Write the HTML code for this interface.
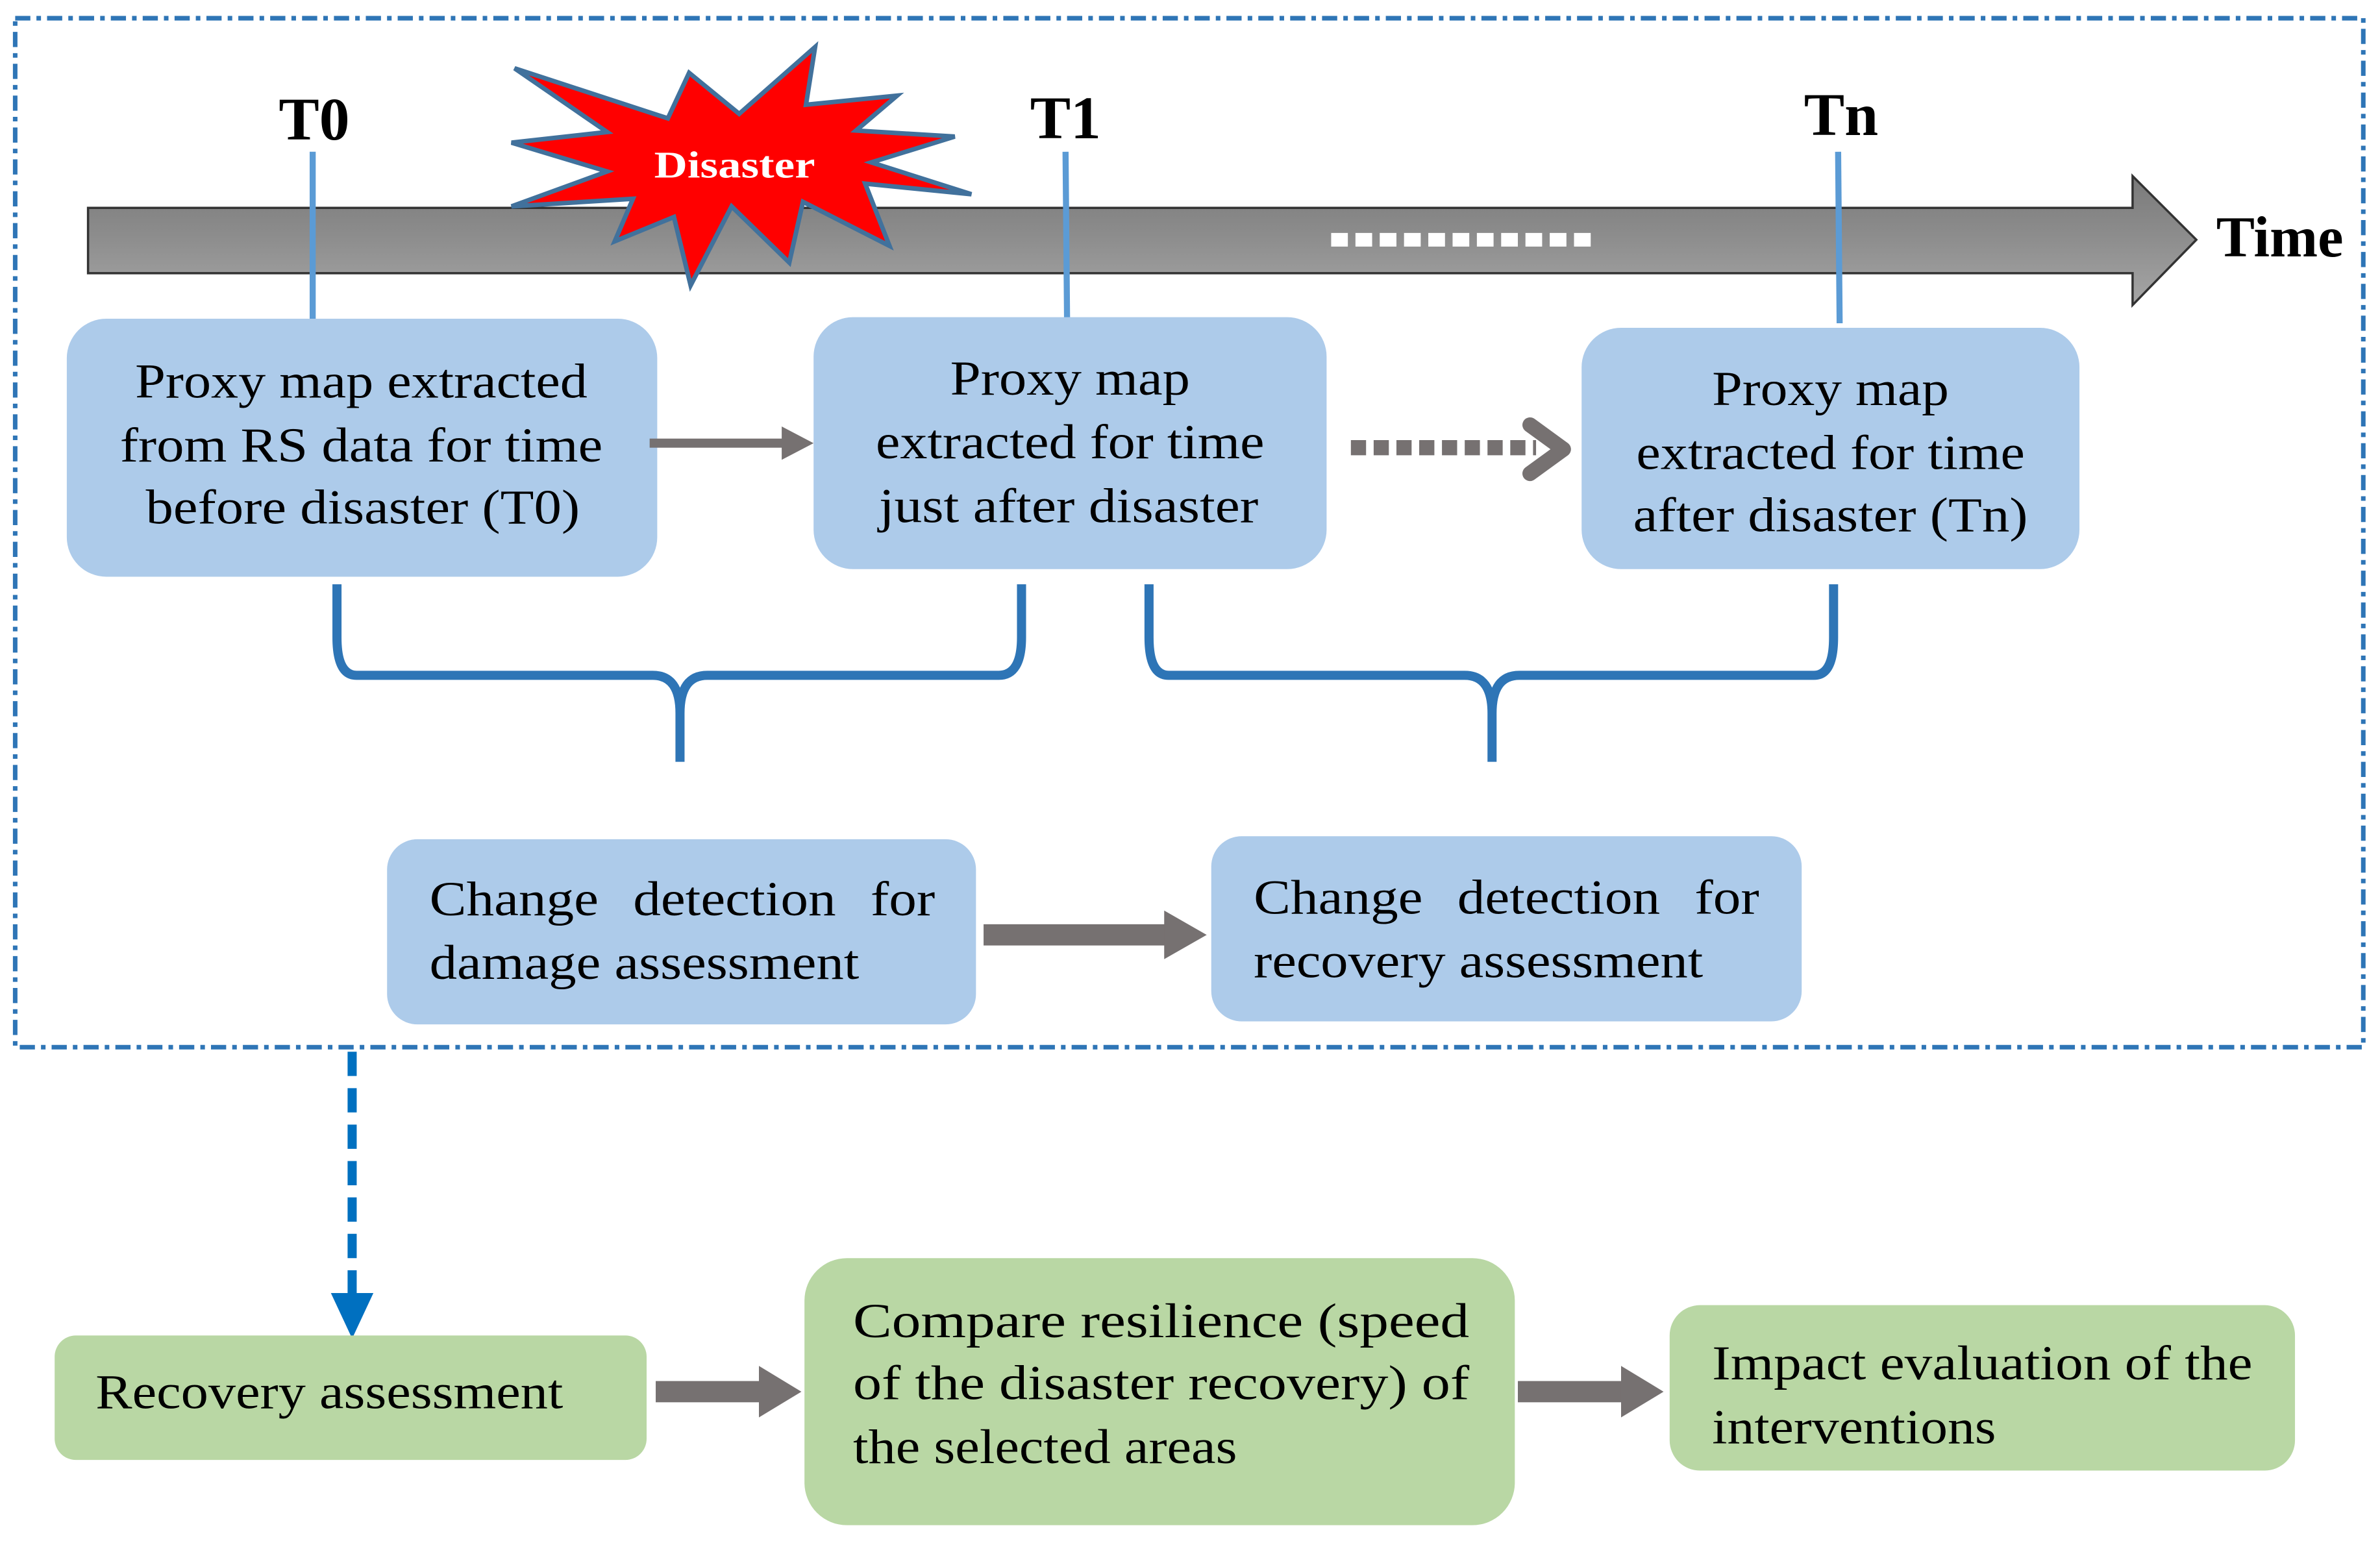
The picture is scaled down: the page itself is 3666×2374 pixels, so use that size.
<!DOCTYPE html>
<html><head><meta charset="utf-8"><style>html,body{margin:0;padding:0;background:#fff}svg{display:block}svg text{font-family:"Liberation Serif","Times New Roman","DejaVu Serif",serif}</style></head>
<body>
<svg width="3666" height="2374" viewBox="0 0 1568 1015.4" xmlns="http://www.w3.org/2000/svg">
<defs>
<linearGradient id="bar" x1="0" y1="0" x2="0" y2="1"><stop offset="0" stop-color="#7a7a7a"/><stop offset="0.5" stop-color="#8e8e8e"/><stop offset="1" stop-color="#a6a6a6"/></linearGradient>
<linearGradient id="fade" x1="0" y1="0" x2="0" y2="1"><stop offset="0" stop-color="#ccc" stop-opacity="0"/><stop offset="1" stop-color="#aaa"/></linearGradient>
</defs>
<rect x="10" y="12" width="1547" height="678" fill="none" stroke="#2e75b6" stroke-width="3" stroke-dasharray="10,4,3,4"/>
<path d="M58,137 H1405 V116 L1447,158 L1405,201 V180 H58 Z" fill="url(#bar)" stroke="#333" stroke-width="1.5"/>
<line x1="877" y1="158" x2="1048" y2="158" stroke="#fff" stroke-width="9" stroke-dasharray="11,5"/>
<g fill="#000" font-weight="bold" text-anchor="middle" font-size="40">
<text x="207" y="92">T0</text><text x="702" y="91">T1</text><text x="1213" y="89">Tn</text>
<text x="1502" y="169" font-size="38">Time</text></g>
<g stroke="#5b9bd5" stroke-width="4"><line x1="206" y1="100" x2="206" y2="210"/><line x1="702" y1="100" x2="703" y2="210"/><line x1="1211" y1="100" x2="1212" y2="213"/></g>
<polygon points="339,45 440,78 454,48 487,75 537,31 531,69 591,63 564,86 629,90 574,107 640,128 570,121 586,162 529,133 520,173 482,136 455,188 444,143 405,159 417,131 337,136 400,113 337,94 400,87" fill="#ff0000" stroke="#41719c" stroke-width="3"/>
<text x="484" y="117" fill="#fff" font-weight="bold" font-size="25" text-anchor="middle" textLength="106" lengthAdjust="spacingAndGlyphs">Disaster</text>
<g fill="#adcbea">
<rect x="44" y="210" width="389" height="170" rx="26"/>
<rect x="536" y="209" width="338" height="166" rx="26"/>
<rect x="1042" y="216" width="328" height="159" rx="26"/>
<rect x="255" y="553" width="388" height="122" rx="20"/>
<rect x="798" y="551" width="389" height="122" rx="20"/>
</g>
<g font-size="32" fill="#000" text-anchor="middle">
<text x="238" y="262" textLength="298" lengthAdjust="spacingAndGlyphs">Proxy map extracted</text>
<text x="238" y="304" textLength="318" lengthAdjust="spacingAndGlyphs">from RS data for time</text>
<text x="239" y="345" textLength="286" lengthAdjust="spacingAndGlyphs">before disaster (T0)</text>
<text x="705" y="260" textLength="158" lengthAdjust="spacingAndGlyphs">Proxy map</text>
<text x="705" y="302" textLength="256" lengthAdjust="spacingAndGlyphs">extracted for time</text>
<text x="704" y="344" textLength="250" lengthAdjust="spacingAndGlyphs">just after disaster</text>
<text x="1206" y="267" textLength="156" lengthAdjust="spacingAndGlyphs">Proxy map</text>
<text x="1206" y="309" textLength="256" lengthAdjust="spacingAndGlyphs">extracted for time</text>
<text x="1206" y="350" textLength="260" lengthAdjust="spacingAndGlyphs">after disaster (Tn)</text>
</g>
<g font-size="32" fill="#000">
<text x="283" y="603" textLength="333" lengthAdjust="spacingAndGlyphs" word-spacing="12">Change  detection  for</text>
<text x="283" y="645" textLength="283" lengthAdjust="spacingAndGlyphs">damage assessment</text>
<text x="826" y="602" textLength="333" lengthAdjust="spacingAndGlyphs" word-spacing="12">Change  detection  for</text>
<text x="826" y="644" textLength="296" lengthAdjust="spacingAndGlyphs">recovery assessment</text>
</g>
<g fill="#767171">
<rect x="428" y="289" width="90" height="6"/><polygon points="515,281 536,292 515,303"/>
<rect x="648" y="609" width="122" height="14"/><polygon points="767,600 795,616 767,632"/>
<rect x="432" y="910" width="72" height="14"/><polygon points="500,900 528,917 500,934"/>
<rect x="1000" y="910" width="72" height="14"/><polygon points="1068,900 1096,917 1068,934"/>
</g>
<line x1="890" y1="295" x2="1012" y2="295" stroke="#767171" stroke-width="10" stroke-dasharray="10,5"/>
<polyline points="1008,280 1030,296 1008,312" fill="none" stroke="#767171" stroke-width="10" stroke-linecap="round" stroke-linejoin="round"/>
<g stroke="url(#fade)" stroke-width="10"><line x1="448" y1="490" x2="448" y2="530"/><line x1="983" y1="490" x2="983" y2="530"/></g>
<g fill="none" stroke="#2e75b6" stroke-width="6">
<path d="M222,385 V420 Q222,445 235,445 H430 Q448,445 448,470 V502 M448,470 Q448,445 466,445 H658 Q673,445 673,420 V385"/>
<path d="M757,385 V420 Q757,445 770,445 H965 Q983,445 983,470 V502 M983,470 Q983,445 1001,445 H1195 Q1208,445 1208,420 V385"/>
</g>
<line x1="232" y1="693" x2="232" y2="852" stroke="#0070c0" stroke-width="6" stroke-dasharray="16,8"/>
<polygon points="218,852 246,852 232,882" fill="#0070c0"/>
<g fill="#b9d7a4">
<rect x="36" y="880" width="390" height="82" rx="14"/>
<rect x="530" y="829" width="468" height="176" rx="28"/>
<rect x="1100" y="860" width="412" height="109" rx="20"/>
</g>
<g font-size="32" fill="#000">
<text x="63" y="928" textLength="308" lengthAdjust="spacingAndGlyphs">Recovery assessment</text>
<text x="562" y="881" textLength="406" lengthAdjust="spacingAndGlyphs">Compare  resilience  (speed</text>
<text x="562" y="922" textLength="406" lengthAdjust="spacingAndGlyphs">of  the  disaster  recovery)  of</text>
<text x="562" y="964" textLength="253" lengthAdjust="spacingAndGlyphs">the selected areas</text>
<text x="1128" y="909" textLength="356" lengthAdjust="spacingAndGlyphs">Impact evaluation of the</text>
<text x="1128" y="951" textLength="187" lengthAdjust="spacingAndGlyphs">interventions</text>
</g>
</svg>
</body></html>
